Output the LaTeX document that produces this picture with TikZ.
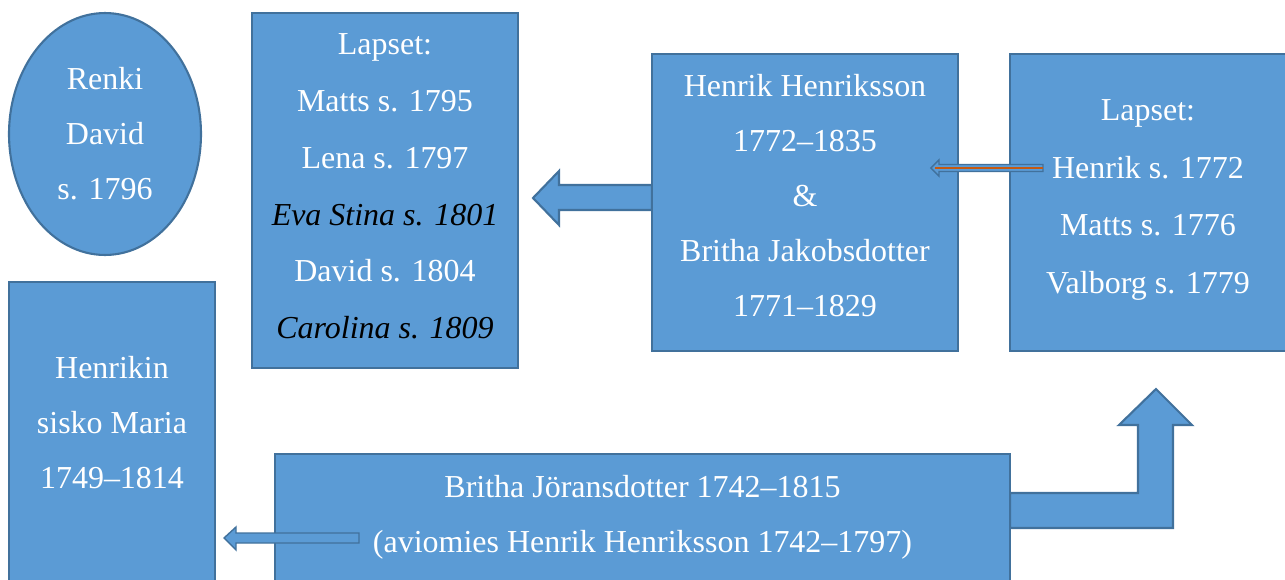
\documentclass[tikz,border=0pt]{standalone}
\usepackage{fontspec}
\setmainfont{Liberation Serif}
\usetikzlibrary{shapes.geometric}
\definecolor{boxblue}{RGB}{91,155,213}
\definecolor{edgeblue}{RGB}{65,113,156}
\definecolor{lineorange}{RGB}{197,90,17}
\tikzset{
	famnode/.style={draw=edgeblue,fill=boxblue,line width=1.2pt,text=white,align=center,inner sep=0pt,font=\fontsize{18.2}{31.3}\selectfont},
	famtext/.style={text=white,align=center,inner sep=0pt,font=\fontsize{18.2}{31.3}\selectfont},
	blockarrow/.style={draw=edgeblue,fill=boxblue,line width=1.2pt},
	thinarrow/.style={draw=edgeblue,fill=boxblue,line width=0.8pt}
}
\newcommand{\darkit}[1]{\textcolor{black}{\itshape #1}}
\begin{document}
\begin{tikzpicture}[x=0.02cm,y=-0.02cm]
		\clip (0,0) rectangle (1285,579);
		
		\node[famnode,ellipse,minimum width=3.84cm,minimum height=4.84cm] (renki) at (105,134) {Renki\\David\\s. 1796};
		
		\node[famnode,minimum width=5.32cm,minimum height=7.1cm] (lapsetA) at (385,190.5) {};
		\node[famtext,font=\fontsize{18.2}{32.3}\selectfont] (lapsetAtxt) at (385,186.5) {Lapset:\\Matts s. 1795\\Lena s. 1797\\\darkit{Eva Stina s. 1801}\\David s. 1804\\\darkit{Carolina s. 1809}};
		
		% arrows under the boxes
		\draw[blockarrow] (805,185) ++(-153,0) -- ++(-93,0) -- ++(0,-14) -- ++(-26,27) -- ++(26,27) -- ++(0,-15) -- ++(93,0) -- cycle;
		\draw[blockarrow] (1010,493) -- ++(128,0) -- ++(0,-68) -- ++(-19,0) -- ++(37,-36) -- ++(36,36) -- ++(-19,0) -- ++(0,103) -- ++(-163,0) -- cycle;
		
		\node[famnode,minimum width=6.12cm,minimum height=5.94cm] (pari) at (805,202.5) {};
		\node[famtext] (paritxt) at (805,195.5) {Henrik Henriksson\\1772--1835\\\&\\Britha Jakobsdotter\\1771--1829};
		
		\node[famnode,minimum width=5.52cm,minimum height=5.94cm] (lapsetB) at (1148,202.5) {};
		\node[famtext,font=\fontsize{18.2}{32.8}\selectfont] (lapsetBtxt) at (1148,200) {Lapset:\\Henrik s. 1772\\Matts s. 1776\\Valborg s. 1779};
		
		\node[famnode,minimum width=4.12cm,minimum height=6.76cm] (maria) at (112,451) {};
		\node[famtext] (mariatxt) at (112,423) {Henrikin\\sisko Maria\\1749--1814};
		
		\node[famnode,minimum width=14.7cm,minimum height=3.32cm] (britha) at (642.5,537) {};
		\node[famtext] (brithatxt) at (642.5,517) {Britha Jöransdotter 1742--1815\\(aviomies Henrik Henriksson 1742--1797)};
		
		% small arrows on top
		\draw[thinarrow] (lapsetB.west) ++(34,-38) -- ++(-104,0) -- ++(0,-4.5) -- ++(-8,8) -- ++(8,8) -- ++(0,-4.5) -- ++(104,0) -- cycle;
		\draw[lineorange,line width=1.4pt] (lapsetB.west) ++(34,-34.5) -- ++(-108,0);
		\draw[thinarrow] (britha.west) ++(85,-4) -- ++(-123,0) -- ++(0,-6) -- ++(-12,11) -- ++(12,12) -- ++(0,-7) -- ++(123,0) -- cycle;
\end{tikzpicture}
\end{document}
